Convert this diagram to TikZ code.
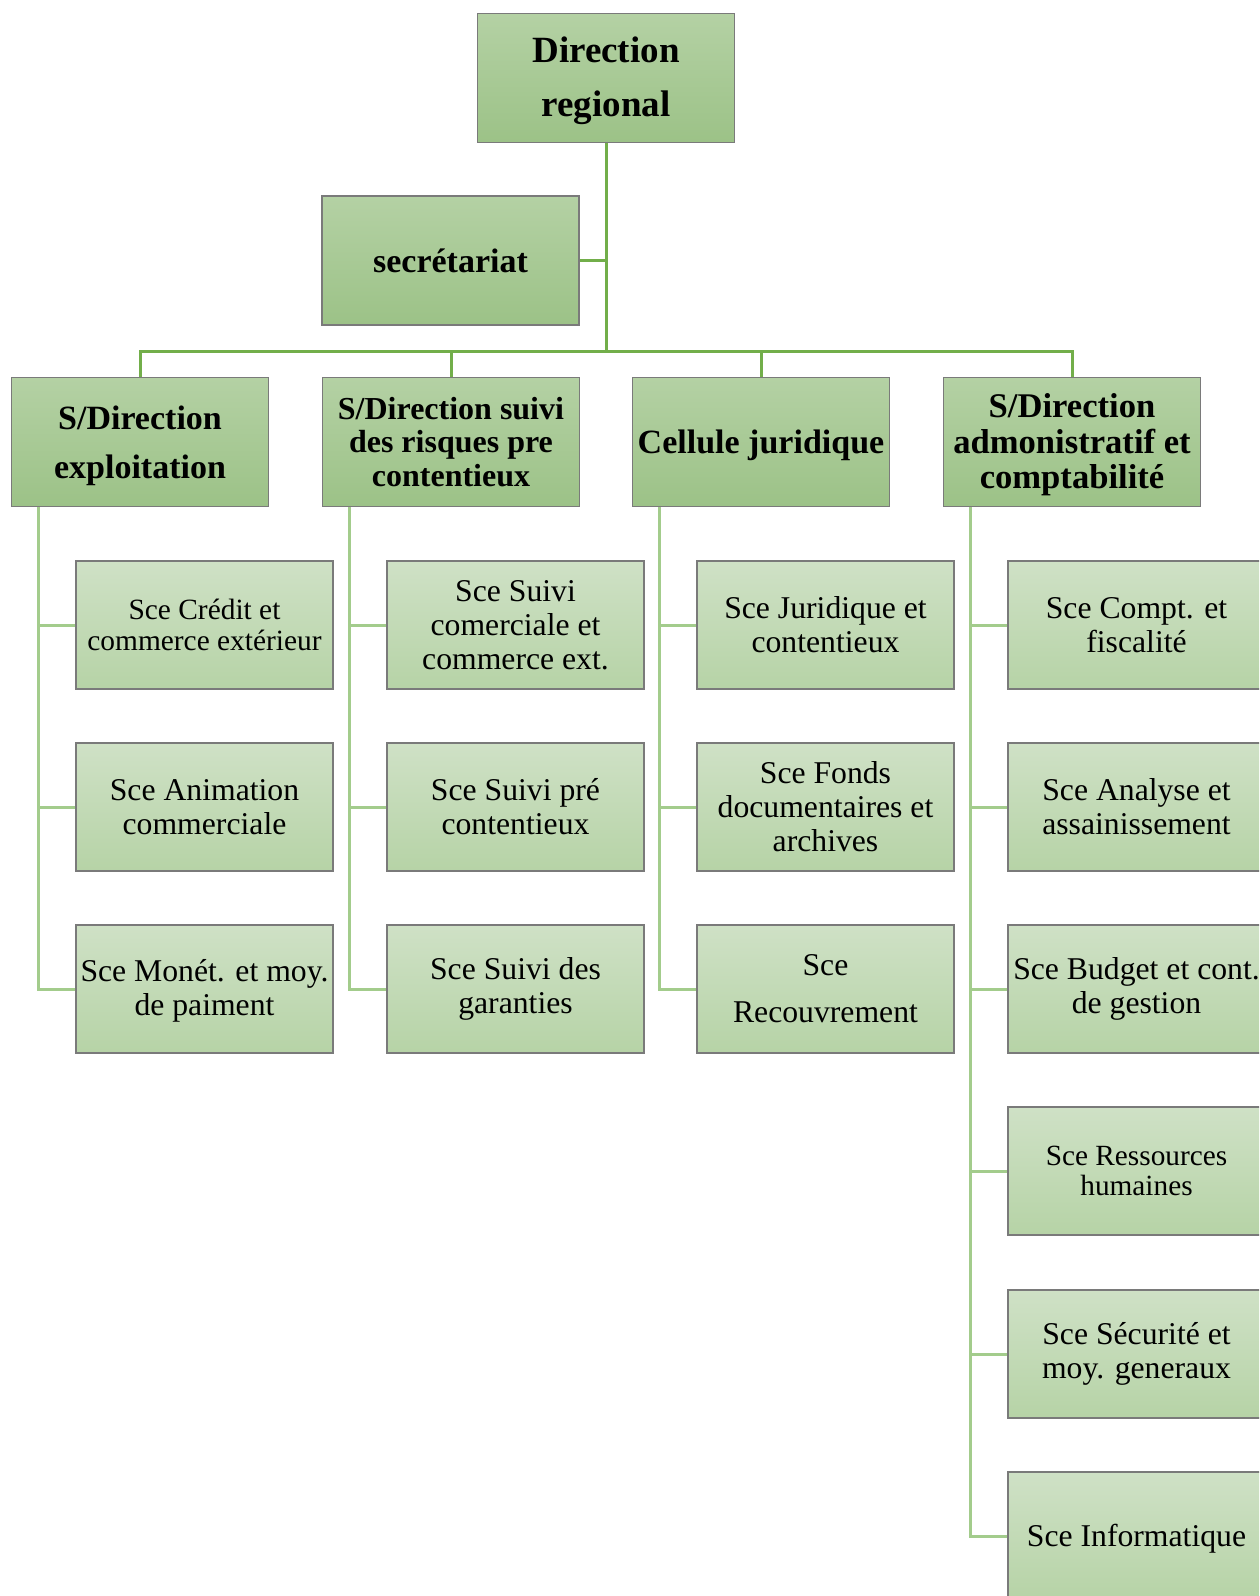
\documentclass[tikz,border=0pt]{standalone}
\usepackage{fontspec}
\setmainfont{Liberation Serif}
\usetikzlibrary{calc}
\definecolor{headtop}{HTML}{B4D1A4}
\definecolor{headbot}{HTML}{9CC287}
\definecolor{svctop}{HTML}{CFE1C6}
\definecolor{svcbot}{HTML}{B6D3A6}
\definecolor{boxline}{HTML}{7A7A7A}
\definecolor{connA}{HTML}{72AE4A}
\definecolor{connB}{HTML}{A3CC8C}
\begin{document}
\begin{tikzpicture}[x=1pt,y=-1pt,
  head/.style={draw=boxline, line width=1.2pt, top color=headtop, bottom color=headbot,
    minimum width=257pt, minimum height=129pt, inner sep=0pt, align=center},
  svc/.style={draw=boxline, line width=1.2pt, top color=svctop, bottom color=svcbot,
    minimum width=257pt, minimum height=128pt, inner sep=0pt, align=center},
  svcfont/.style={font=\fontsize{31.7}{34}\selectfont},
  conn/.style={draw=connA, line width=3pt},
  subconn/.style={draw=connB, line width=3pt}]
\clip (0,0) rectangle (1259,1596);
\fill[white] (0,0) rectangle (1259,1596);

% top level
\node[head, font=\fontsize{37}{54}\selectfont\bfseries, text depth=2pt] (top) at (606,78) {Direction\\regional};
\node[head, font=\fontsize{34}{40}\selectfont\bfseries] (sec) at (450.5,260.5) {secrétariat};

% second level
\node[head, font=\fontsize{34}{49}\selectfont\bfseries, text depth=0pt] (d1) at (140,442) {S/Direction\\exploitation};
\node[head, font=\fontsize{32}{33.5}\selectfont\bfseries] (d2) at (451,442) {S/Direction suivi\\des risques pre\\contentieux};
\node[head, font=\fontsize{34}{40}\selectfont\bfseries, text depth=0pt] (d3) at (761,442) {Cellule juridique};
\node[head, font=\fontsize{34.6}{35.6}\selectfont\bfseries, text depth=1.5pt] (d4) at (1072,442) {S/Direction\\admonistratif et\\comptabilité};

% services
\node[svc, font=\fontsize{29.4}{30.5}\selectfont] (c11) at (204.5,625) {Sce Crédit et\\commerce extérieur};
\node[svc, svcfont] (c12) at (204.5,807) {Sce Animation\\commerciale};
\node[svc, svcfont, text depth=3pt] (c13) at (204.5,989) {Sce Monét. et moy.\\de paiment};

\node[svc, svcfont] (c21) at (515.5,625) {Sce Suivi\\comerciale et\\commerce ext.};
\node[svc, svcfont] (c22) at (515.5,807) {Sce Suivi pré\\contentieux};
\node[svc, svcfont] (c23) at (515.5,989) {Sce Suivi des\\garanties};

\node[svc, svcfont] (c31) at (825.5,625) {Sce Juridique et\\contentieux};
\node[svc, svcfont] (c32) at (825.5,807) {Sce Fonds\\documentaires et\\archives};
\node[svc, font=\fontsize{31.7}{47}\selectfont] (c33) at (825.5,989) {Sce\\Recouvrement};

\node[svc, svcfont] (c41) at (1136.5,625) {Sce Compt. et\\fiscalité};
\node[svc, svcfont] (c42) at (1136.5,807) {Sce Analyse et\\assainissement};
\node[svc, svcfont] (c43) at (1136.5,989) {Sce Budget et cont.\\de gestion};
\node[svc, font=\fontsize{29.3}{30}\selectfont] (c44) at (1136.5,1171) {Sce Ressources\\humaines};
\node[svc, svcfont] (c45) at (1136.5,1354) {Sce Sécurité et\\moy. generaux};
\node[svc, svcfont, text depth=1pt] (c46) at (1136.5,1536) {Sce Informatique};

% top connectors
\coordinate (bus) at (606,351);
\draw[conn] (top.south) -- (bus);
\draw[conn] (sec.east) -- (sec.east -| top.south);
\draw[conn] (bus) -| (d1.north);
\draw[conn] (bus) -| (d2.north);
\draw[conn] (bus) -| (d3.north);
\draw[conn] (bus) -| (d4.north);

% sub connectors
\coordinate (t1) at ($(d1.south west)+(27.5,0)$);
\coordinate (t2) at ($(d2.south west)+(27.5,0)$);
\coordinate (t3) at ($(d3.south west)+(27.5,0)$);
\coordinate (t4) at ($(d4.south west)+(27.5,0)$);
\foreach \c in {c11,c12,c13} \draw[subconn] (t1) |- (\c.west);
\foreach \c in {c21,c22,c23} \draw[subconn] (t2) |- (\c.west);
\foreach \c in {c31,c32,c33} \draw[subconn] (t3) |- (\c.west);
\foreach \c in {c41,c42,c43,c44,c45,c46} \draw[subconn] (t4) |- (\c.west);
\end{tikzpicture}
\end{document}
